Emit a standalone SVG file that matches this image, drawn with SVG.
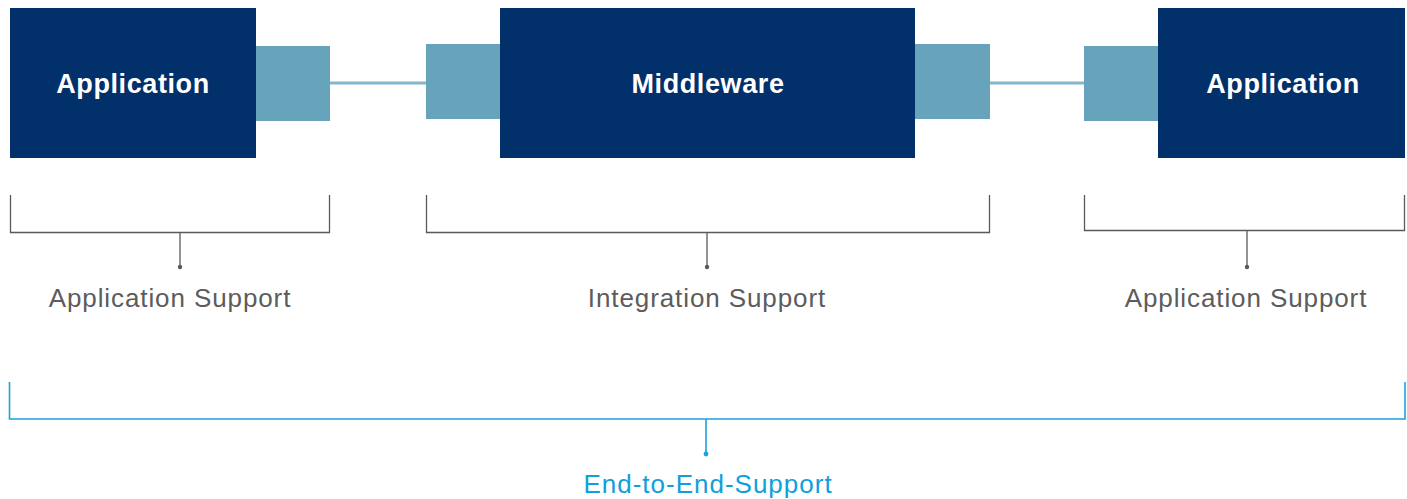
<svg xmlns="http://www.w3.org/2000/svg" width="1407" height="499" viewBox="0 0 1407 499">
<style>
.box{fill:#01306b}
.port{fill:#68a3bc}
.title{font-family:"Liberation Sans",Arial,sans-serif;font-weight:bold;font-size:27px;fill:#ffffff;text-anchor:middle;letter-spacing:0.6px}
.lbl{font-family:"Liberation Sans",Arial,sans-serif;font-size:26px;fill:#5c5c5c;text-anchor:middle;letter-spacing:0.9px}
.br{fill:none;stroke:#5a5a5a;stroke-width:1.3}
.brb{fill:none;stroke:#1ca3de;stroke-width:1.6}
.blue{font-family:"Liberation Sans",Arial,sans-serif;font-size:26px;fill:#0fa0dc;text-anchor:middle;letter-spacing:1px}
.link{stroke:#84b7cd;stroke-width:3}
</style>
<g id="connectors">
<line class="link" x1="330" y1="83" x2="426" y2="83"/>
<line class="link" x1="990" y1="83" x2="1084" y2="83"/>
</g>
<g id="app-left">
<rect class="box" x="10" y="8" width="246" height="150"/>
<rect class="port" x="256" y="46" width="74" height="75"/>
<text class="title" x="133" y="93">Application</text>
</g>
<g id="middleware">
<rect class="port" x="426" y="44" width="74" height="75"/>
<rect class="box" x="500" y="8" width="415" height="150"/>
<rect class="port" x="915" y="44" width="75" height="75"/>
<text class="title" x="708" y="93">Middleware</text>
</g>
<g id="app-right">
<rect class="port" x="1084" y="46" width="74" height="75"/>
<rect class="box" x="1158" y="8" width="247" height="150"/>
<text class="title" x="1283" y="93">Application</text>
</g>
<g id="support-left">
<path class="br" d="M10.5 195 V232.5 H329.5 V195 M180 232.5 V267"/>
<circle cx="180" cy="267" r="2.2" fill="#5a5a5a"/>
<text class="lbl" x="170" y="307">Application Support</text>
</g>
<g id="support-middle">
<path class="br" d="M426.5 195 V232.5 H989.5 V195 M707 232.5 V267"/>
<circle cx="707" cy="267" r="2.2" fill="#5a5a5a"/>
<text class="lbl" x="707" y="307">Integration Support</text>
</g>
<g id="support-right">
<path class="br" d="M1084.5 195 V230.5 H1404.5 V195 M1247 230.5 V267"/>
<circle cx="1247" cy="267" r="2.2" fill="#5a5a5a"/>
<text class="lbl" x="1246" y="307">Application Support</text>
</g>
<g id="support-e2e">
<path class="brb" d="M9.5 382 V419 H1405 V382 M706 419 V454"/>
<circle cx="706" cy="454" r="2.4" fill="#1ca3de"/>
<text class="blue" x="708" y="493">End-to-End-Support</text>
</g>
</svg>
